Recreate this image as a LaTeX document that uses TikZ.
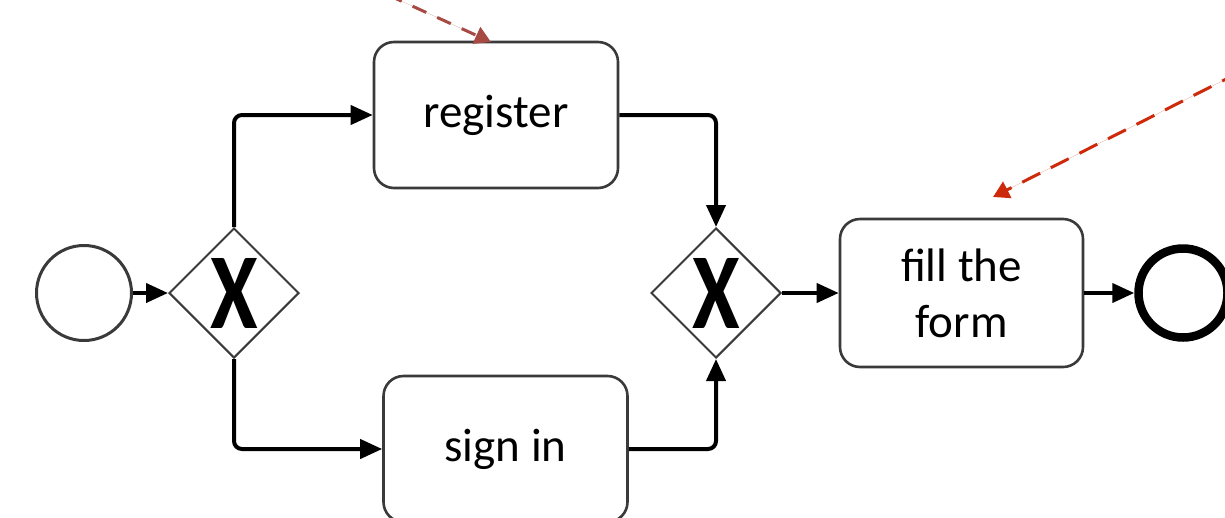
\documentclass[tikz,border=0pt]{standalone}
\usepackage{fontspec}
\setmainfont{Carlito}
\usetikzlibrary{shapes.geometric,arrows.meta}
\definecolor{framegray}{HTML}{3A3A3A}
\definecolor{notebrown}{HTML}{A84A44}
\definecolor{notered}{HTML}{CC2A0A}
\begin{document}
\begin{tikzpicture}[x=1pt,y=-1pt,
  task/.style={draw=framegray,line width=2.6pt,rounded corners=20pt,fill=white,
    minimum width=244pt,minimum height=146pt,inner sep=0pt,align=center,
    font=\fontsize{47}{56}\selectfont},
  gateway/.style={draw=framegray,line width=2pt,diamond,aspect=1,inner sep=0pt,
    minimum width=130pt,minimum height=130pt,fill=white},
  xmark/.style={font=\bfseries},
  flow/.style={line width=4pt,rounded corners=8pt,-{Triangle[length=22pt,width=19pt]}},
  note/.style={line width=3pt,dash pattern=on 20pt off 12pt,
    -{Triangle[length=16pt,width=18pt]}}]
\useasboundingbox (0,0) rectangle (1225,517);
\clip (0,0) rectangle (1225,517);

% events
\node[circle,draw=framegray,line width=3pt,minimum size=95pt,inner sep=0pt] (start) at (84,293) {};
\node[circle,draw=black,line width=8.5pt,minimum size=89pt,inner sep=0pt] (end) at (1183,293) {};

% gateways
\node[gateway] (gw1) at (234,293) {};
\node[xmark] (gw1x) at (gw1) {\scalebox{0.8}[1]{\fontsize{108}{108}\selectfont X}};
\node[gateway] (gw2) at (716,293) {};
\node[xmark] (gw2x) at (gw2) {\scalebox{0.8}[1]{\fontsize{108}{108}\selectfont X}};

% tasks
\node[task] (register) at (496,115) {register};
\node[task] (signin) at (505.5,449) {sign in};
\node[task,minimum width=243pt,minimum height=148pt] (fill) at (961.5,293) {fill the\\form};

% sequence flows
\draw[flow] (start) -- (gw1);
\draw[flow] (gw1.north) |- (register.west);
\draw[flow] (gw1.south) |- (signin.west);
\draw[flow] (register.east) -| (gw2.north);
\draw[flow] (signin.east) -| (gw2.south);
\draw[flow] (gw2) -- (fill);
\draw[flow] (fill) -- (end);

% associations coming in from outside
\coordinate (n1from) at (388,-5);
\coordinate (n1to) at (491,42);
\coordinate (n2from) at (1240,72);
\coordinate (n2to) at (993,197);
\draw[note,draw=notebrown,fill=notebrown,dash pattern=on 15pt off 12pt] (n1from) -- (n1to);
\draw[note,draw=notered,fill=notered] (n2from) -- (n2to);
\end{tikzpicture}
\end{document}
